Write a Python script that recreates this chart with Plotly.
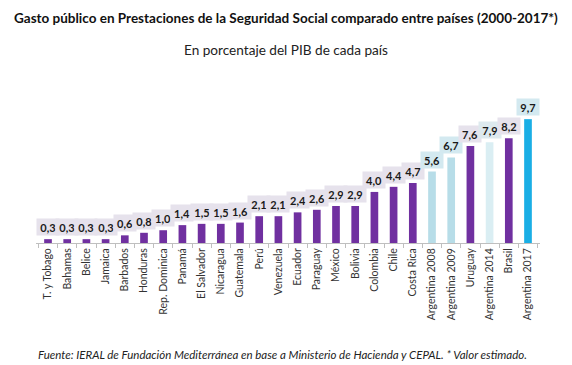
import plotly.graph_objects as go

categories = ["T. y Tobago", "Bahamas", "Belice", "Jamaica", "Barbados", "Honduras",
              "Rep. Dominica", "Panamá", "El Salvador", "Nicaragua", "Guatemala", "Perú",
              "Venezuela", "Ecuador", "Paraguay", "México", "Bolivia", "Colombia", "Chile",
              "Costa Rica", "Argentina 2008", "Argentina 2009", "Uruguay", "Argentina 2014",
              "Brasil", "Argentina 2017"]
values = [0.3, 0.3, 0.3, 0.3, 0.6, 0.8, 1.0, 1.4, 1.5, 1.5, 1.6, 2.1, 2.1, 2.4, 2.6,
          2.9, 2.9, 4.0, 4.4, 4.7, 5.6, 6.7, 7.6, 7.9, 8.2, 9.7]
labels = ["0,3", "0,3", "0,3", "0,3", "0,6", "0,8", "1,0", "1,4", "1,5", "1,5", "1,6",
          "2,1", "2,1", "2,4", "2,6", "2,9", "2,9", "4,0", "4,4", "4,7", "5,6", "6,7",
          "7,6", "7,9", "8,2", "9,7"]

PURPLE = "#7030A0"
bar_colors = []
box_colors = []
for c in categories:
    if c in ("Argentina 2008", "Argentina 2009"):
        bar_colors.append("#B7DDE8"); box_colors.append("#D3E9F0")
    elif c == "Argentina 2014":
        bar_colors.append("#DAEEF3"); box_colors.append("#DDE9EE")
    elif c == "Argentina 2017":
        bar_colors.append("#1AAEE5"); box_colors.append("#D3E9F0")
    else:
        bar_colors.append(PURPLE); box_colors.append("#E6E2EC")

fig = go.Figure(go.Bar(x=categories, y=values, marker_color=bar_colors,
                       marker_line_width=0, hoverinfo="skip"))

for c, v, t, bc in zip(categories, values, labels, box_colors):
    fig.add_annotation(x=c, y=v, text="<b>%s</b>" % t, showarrow=False,
                       yanchor="bottom", yshift=3, bgcolor=bc, width=20, height=14,
                       font=dict(family="Lato, Open Sans, sans-serif", size=11, color="#1a1a1a"))

fig.add_annotation(xref="paper", yref="paper", x=0.496, y=1, yanchor="middle", yshift=82,
                   text="<b>Gasto público en Prestaciones de la Seguridad Social comparado entre países (2000-2017*)</b>",
                   showarrow=False, font=dict(family="Lato, sans-serif", size=13.5, color="#111"))
fig.add_annotation(xref="paper", yref="paper", x=0.496, y=1, yanchor="middle", yshift=50,
                   text="En porcentaje del PIB de cada país",
                   showarrow=False, font=dict(family="Lato, sans-serif", size=13.6, color="#222"))
fig.add_annotation(xref="paper", yref="paper", x=0.49, y=0, yanchor="middle", yshift=-111,
                   text="<i>Fuente: IERAL de Fundación Mediterránea en base a Ministerio de Hacienda y CEPAL. * Valor estimado.</i>",
                   showarrow=False, font=dict(family="Lato, sans-serif", size=11.5, color="#222"))

fig.update_layout(
    width=564, height=357,
    margin=dict(l=28, r=32, t=92, b=122, autoexpand=False),
    paper_bgcolor="white", plot_bgcolor="white",
    showlegend=False, bargap=0.6,
)
fig.update_xaxes(tickangle=-90, showline=True, linecolor="#BFBFBF", linewidth=1,
                 ticks="outside", tickson="boundaries", ticklen=4, tickcolor="#BFBFBF",
                 tickfont=dict(family="Lato, sans-serif", size=10.5, color="#333"),
                 showgrid=False, fixedrange=True, automargin=False)
fig.update_yaxes(range=[0, 11.2], visible=False, showgrid=False, fixedrange=True)

fig.write_html("out.html")
